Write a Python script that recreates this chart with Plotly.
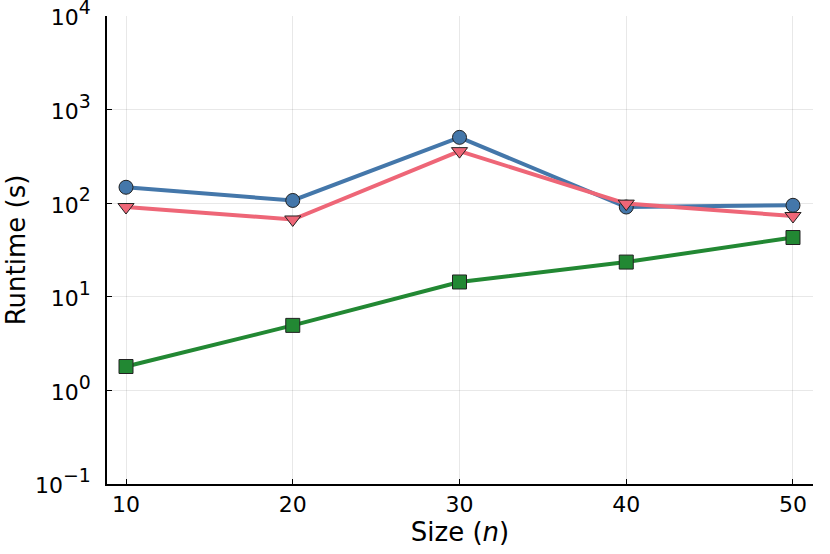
import plotly.graph_objects as go

# problem sizes
sizes = [10, 20, 30, 40, 50]

# runtimes (s)
runtime_blue = [148, 107, 505, 91, 95]
runtime_red = [91, 67, 360, 99, 73]
runtime_green = [1.8, 4.95, 14.4, 23.5, 43]

ytick_vals = [0.1, 1, 10, 100, 1000, 10000]
ytick_exps = ["\u22121", "0", "1", "2", "3", "4"]
# base "10" at 22px, exponent at 70% of 27px (~19px) like the reference
ytick_text = ['<span style="font-size:22px">10</span><sup>%s</sup>' % e
              for e in ytick_exps]

fig = go.Figure()

series = [
    (runtime_blue, "#4477AA", "circle"),
    (runtime_red, "#EE6677", "triangle-down"),
    (runtime_green, "#228833", "square"),
]
for vals, col, sym in series:
    fig.add_trace(go.Scatter(
        x=sizes, y=vals,
        mode="lines+markers",
        line=dict(color=col, width=4),
        marker=dict(symbol=sym, size=14, color=col,
                    line=dict(color="#222222", width=1)),
        showlegend=False,
    ))

fig.update_layout(
    width=830, height=554,
    margin=dict(l=107, r=17, t=16, b=70),
    paper_bgcolor="white",
    plot_bgcolor="white",
    font=dict(family="DejaVu Sans", size=22, color="black"),
)

fig.update_xaxes(
    range=[8.86, 51.2],
    tickvals=sizes,
    showline=True, linecolor="black", linewidth=1.5,
    ticks="inside", ticklen=5, tickcolor="black",
    ticklabelstandoff=0,
    showgrid=True, gridcolor="rgba(0,0,0,0.09)", gridwidth=1,
    zeroline=False,
    automargin=False,
    title=dict(text="Size (<i>n</i>)", standoff=0),
    tickfont=dict(size=22),
)
fig.update_yaxes(
    type="log",
    range=[-1, 4],
    tickvals=ytick_vals, ticktext=ytick_text,
    showline=True, linecolor="black", linewidth=1.5,
    ticks="inside", ticklen=5, tickcolor="black",
    ticklabelstandoff=9,
    ticklabeloverflow="allow",
    showgrid=True, gridcolor="rgba(0,0,0,0.09)", gridwidth=1,
    zeroline=False,
    automargin=False,
    title=dict(text="Runtime (s)", standoff=2),
    tickfont=dict(size=27),
)

# drop the page's default body margin so the figure sits at the window corner
fig.write_html("out.html", config={"displayModeBar": False},
               post_script="document.body.style.margin='0';")
